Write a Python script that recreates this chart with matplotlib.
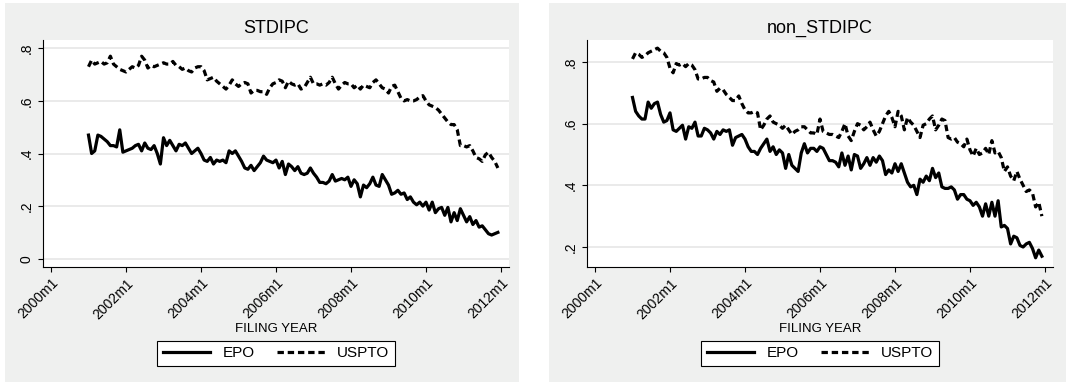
import matplotlib.pyplot as plt
from matplotlib.patches import Rectangle
import numpy as np

plt.rcParams['font.family'] = ['Liberation Sans', 'DejaVu Sans']

# monthly filings, 2001m1 .. 2011m12 (months counted from 2000m1)
months = np.arange(12, 144)
tick_pos = np.arange(0, 145, 24)
tick_labels = [f"{y}m1" for y in range(2000, 2013, 2)]

epo_std = [
    0.47, 0.40, 0.41, 0.47, 0.465, 0.455, 0.445, 0.43, 0.43, 0.425, 0.49, 0.405,
    0.41, 0.415, 0.42, 0.43, 0.435, 0.41, 0.44, 0.42, 0.415, 0.43, 0.40, 0.36,
    0.46, 0.43, 0.45, 0.43, 0.41, 0.435, 0.43, 0.44, 0.42, 0.40, 0.41, 0.42,
    0.40, 0.375, 0.37, 0.385, 0.36, 0.375, 0.37, 0.375, 0.365, 0.41, 0.40, 0.41,
    0.39, 0.37, 0.345, 0.34, 0.355, 0.335, 0.35, 0.365, 0.39, 0.375, 0.37, 0.365,
    0.375, 0.345, 0.37, 0.32, 0.36, 0.35, 0.335, 0.35, 0.325, 0.32, 0.325, 0.345,
    0.325, 0.31, 0.29, 0.29, 0.285, 0.295, 0.32, 0.295, 0.30, 0.305, 0.30, 0.31,
    0.275, 0.30, 0.285, 0.235, 0.28, 0.27, 0.285, 0.31, 0.28, 0.275, 0.32, 0.30,
    0.28, 0.245, 0.25, 0.26, 0.245, 0.25, 0.225, 0.235, 0.215, 0.205, 0.215, 0.20,
    0.215, 0.185, 0.215, 0.175, 0.19, 0.195, 0.165, 0.195, 0.14, 0.175, 0.145, 0.19,
    0.165, 0.14, 0.16, 0.13, 0.145, 0.12, 0.125, 0.11, 0.095, 0.09, 0.095, 0.10,
]
uspto_std = [
    0.73, 0.755, 0.74, 0.745, 0.75, 0.74, 0.745, 0.77, 0.74, 0.73, 0.72, 0.715,
    0.71, 0.72, 0.73, 0.725, 0.735, 0.77, 0.755, 0.725, 0.735, 0.73, 0.735, 0.74,
    0.745, 0.74, 0.74, 0.75, 0.735, 0.73, 0.72, 0.725, 0.715, 0.71, 0.725, 0.73,
    0.73, 0.715, 0.68, 0.685, 0.69, 0.675, 0.665, 0.655, 0.645, 0.66, 0.68, 0.665,
    0.655, 0.665, 0.67, 0.665, 0.63, 0.64, 0.64, 0.635, 0.635, 0.625, 0.65, 0.665,
    0.67, 0.68, 0.675, 0.65, 0.675, 0.665, 0.66, 0.665, 0.645, 0.65, 0.67, 0.69,
    0.665, 0.665, 0.66, 0.665, 0.66, 0.67, 0.69, 0.665, 0.645, 0.66, 0.67, 0.665,
    0.665, 0.65, 0.66, 0.645, 0.66, 0.655, 0.65, 0.67, 0.68, 0.665, 0.65, 0.645,
    0.63, 0.655, 0.66, 0.635, 0.61, 0.60, 0.605, 0.60, 0.60, 0.605, 0.615, 0.62,
    0.60, 0.585, 0.58, 0.575, 0.565, 0.55, 0.535, 0.52, 0.51, 0.51, 0.49, 0.43,
    0.43, 0.425, 0.43, 0.41, 0.385, 0.38, 0.37, 0.395, 0.405, 0.385, 0.37, 0.345,
]
epo_non = [
    0.685, 0.64, 0.625, 0.615, 0.615, 0.67, 0.65, 0.665, 0.67, 0.63, 0.605, 0.61,
    0.635, 0.58, 0.575, 0.585, 0.595, 0.55, 0.59, 0.585, 0.605, 0.56, 0.56, 0.585,
    0.58, 0.57, 0.55, 0.575, 0.565, 0.58, 0.575, 0.58, 0.53, 0.555, 0.56, 0.565,
    0.55, 0.525, 0.51, 0.51, 0.50, 0.52, 0.535, 0.55, 0.51, 0.525, 0.50, 0.515,
    0.505, 0.455, 0.50, 0.465, 0.455, 0.445, 0.505, 0.535, 0.505, 0.52, 0.52, 0.51,
    0.525, 0.52, 0.50, 0.48, 0.48, 0.475, 0.46, 0.505, 0.465, 0.495, 0.45, 0.50,
    0.495, 0.455, 0.47, 0.49, 0.465, 0.49, 0.475, 0.495, 0.48, 0.435, 0.45, 0.44,
    0.47, 0.445, 0.47, 0.44, 0.41, 0.395, 0.40, 0.37, 0.42, 0.41, 0.43, 0.415,
    0.455, 0.425, 0.44, 0.395, 0.39, 0.39, 0.395, 0.385, 0.355, 0.37, 0.37, 0.355,
    0.35, 0.335, 0.345, 0.33, 0.30, 0.34, 0.30, 0.345, 0.30, 0.35, 0.265, 0.27,
    0.26, 0.21, 0.235, 0.23, 0.205, 0.20, 0.21, 0.215, 0.195, 0.165, 0.19, 0.17,
]
uspto_non = [
    0.81, 0.83, 0.825, 0.815, 0.82, 0.83, 0.835, 0.84, 0.845, 0.835, 0.83, 0.815,
    0.78, 0.765, 0.795, 0.79, 0.795, 0.785, 0.795, 0.79, 0.775, 0.745, 0.745, 0.75,
    0.75, 0.74, 0.735, 0.705, 0.715, 0.71, 0.695, 0.685, 0.675, 0.675, 0.69, 0.665,
    0.645, 0.635, 0.635, 0.64, 0.635, 0.58, 0.595, 0.615, 0.625, 0.605, 0.60, 0.595,
    0.585, 0.595, 0.58, 0.565, 0.575, 0.58, 0.59, 0.59, 0.58, 0.57, 0.57, 0.565,
    0.615, 0.575, 0.57, 0.565, 0.565, 0.56, 0.555, 0.575, 0.60, 0.56, 0.545, 0.575,
    0.60, 0.595, 0.58, 0.59, 0.605, 0.58, 0.56, 0.575, 0.60, 0.625, 0.64, 0.62,
    0.59, 0.64, 0.625, 0.58, 0.62, 0.605, 0.595, 0.575, 0.555, 0.595, 0.60, 0.615,
    0.625, 0.58, 0.595, 0.615, 0.61, 0.555, 0.55, 0.555, 0.54, 0.535, 0.525, 0.55,
    0.515, 0.495, 0.52, 0.50, 0.505, 0.52, 0.50, 0.545, 0.505, 0.51, 0.49, 0.445,
    0.46, 0.43, 0.415, 0.445, 0.42, 0.40, 0.38, 0.385, 0.375, 0.33, 0.345, 0.30,
]

W, H = 1066, 384
fig = plt.figure(figsize=(W / 100, H / 100), dpi=100)
bg = '#eff0ef'


def px_box(x0, y0, x1, y1):
    return [x0 / W, 1 - y1 / H, (x1 - x0) / W, (y1 - y0) / H]


# grey graph regions behind each panel
for x0, x1 in [(5, 519), (549, 1066)]:
    b = px_box(x0, 3, x1, 382)
    fig.patches.append(Rectangle((b[0], b[1]), b[2], b[3], transform=fig.transFigure,
                                 facecolor=bg, edgecolor='none', zorder=-1))


def panel(ax, title, epo, uspto, yticks, ylabels, ylim):
    ax.plot(months, epo, color='black', lw=2.3, label='EPO')
    ax.plot(months, uspto, color='black', lw=2.3, ls=(0, (2.0, 1.2)), label='USPTO')
    ax.set_xlim(-2.56, 146.56)
    ax.set_ylim(*ylim)
    ax.set_xticks(tick_pos, tick_labels, rotation=45, ha='right',
                  rotation_mode='anchor', fontsize=10)
    ax.set_yticks(yticks, ylabels, rotation=90, va='center', fontsize=10)
    ax.grid(axis='y', color='#e6e6e6', lw=1.2)
    ax.set_axisbelow(True)
    for s in ['top', 'right']:
        ax.spines[s].set_visible(False)
    for s in ['left', 'bottom']:
        ax.spines[s].set_linewidth(0.8)
    ax.tick_params(length=3.5, width=0.8, direction='out', pad=3)
    ax.set_title(title, fontsize=13, pad=5)
    ax.set_xlabel('FILING YEAR', fontsize=9.5, labelpad=1)
    leg = ax.legend(loc='center', bbox_to_anchor=(0.5, -0.381), ncol=2,
                    frameon=True, fancybox=False, fontsize=11, handlelength=3.1,
                    columnspacing=1.5, edgecolor='black', borderpad=0.35,
                    framealpha=1)
    leg.get_frame().set_linewidth(0.8)


ax1 = fig.add_axes(px_box(43, 40, 509, 267))
panel(ax1, 'STDIPC', epo_std, uspto_std,
      [0, 0.2, 0.4, 0.6, 0.8], ['0', '.2', '.4', '.6', '.8'], (-0.0316, 0.8316))

ax2 = fig.add_axes(px_box(587, 40, 1053, 267))
panel(ax2, 'non_STDIPC', epo_non, uspto_non,
      [0.2, 0.4, 0.6, 0.8], ['.2', '.4', '.6', '.8'], (0.1351, 0.8714))

fig.savefig('out.png', dpi=100)
